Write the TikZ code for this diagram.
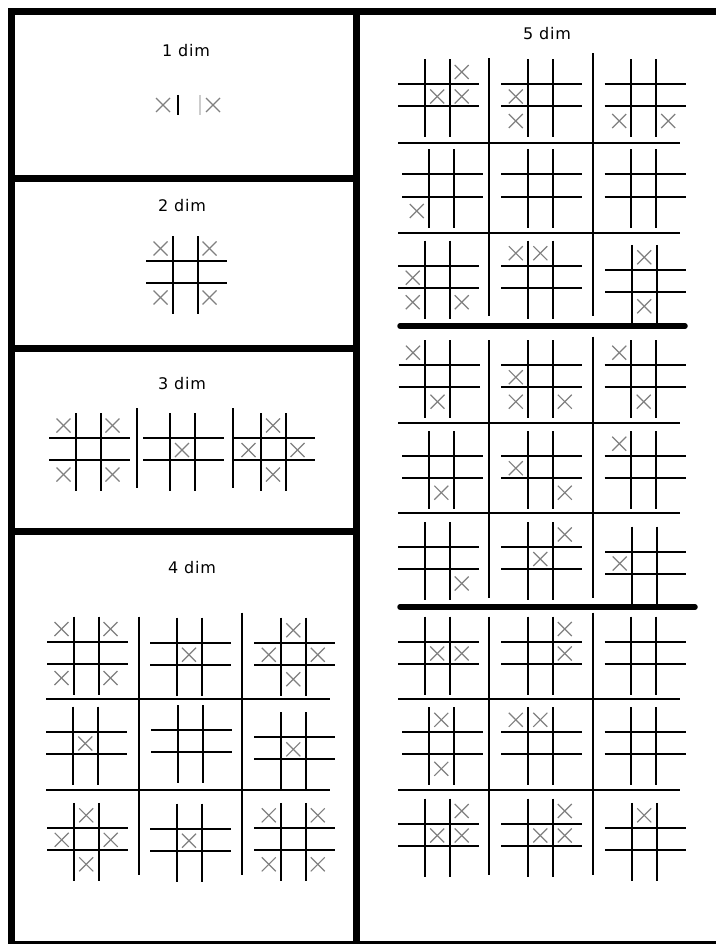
\documentclass[tikz,border=0pt]{standalone}
\usepackage{fontspec}
\setmainfont[LetterSpace=5]{DejaVu Sans}

% one tic-tac-toe board: centre x, centre y, list of marks col/row
\newcommand{\board}[3]{%
	\draw[gridline] (#1-12.5,#2-36) -- (#1-12.5,#2+42);
	\draw[gridline] (#1+12.5,#2-36) -- (#1+12.5,#2+42);
	\draw[gridline] (#1-39,#2-11) -- (#1+42,#2-11);
	\draw[gridline] (#1-39,#2+11) -- (#1+42,#2+11);
	\ifx\relax#3\relax\else
	\foreach \c/\r in {#3} {
		\draw[xmark] ({#1+24.5*\c-7},{#2+24.5*\r-6}) -- ++(14,14);
		\draw[xmark] ({#1+24.5*\c-7},{#2+24.5*\r+8}) -- ++(14,-14);
	}
	\fi
}

\begin{document}
\begin{tikzpicture}[x=1pt,y=-1pt,
	gridline/.style={black, line width=2pt},
	xmark/.style={markgray, line width=1.2pt},
	frame/.style={black, line width=7pt},
	bar/.style={black, line width=5.5pt, line cap=round},
	dimlabel/.style={font=\fontsize{16}{19}\selectfont, inner sep=0pt}]
	% Define custom colors
	\definecolor{markgray}{RGB}{128, 128, 128}
	\definecolor{lightbar}{RGB}{205, 205, 205}
	\useasboundingbox (0,0) rectangle (715,944);
	\fill[white] (0,0) rectangle (715,944);
	% frame and panels
	\draw[frame] (11,12) rectangle (719,944.5);
	\draw[frame] (356.5,12) -- (356.5,944.5);
	\draw[frame] (11,178.5) -- (356.5,178.5);
	\draw[frame] (11,348) -- (356.5,348);
	\draw[frame] (11,531.5) -- (356.5,531.5);
	% 1 dim
	\node[dimlabel] (dimone) at (186,51) {1 dim};
	\draw[xmark] (156,98) -- (170,112);
	\draw[xmark] (156,112) -- (170,98);
	\draw[gridline] (178,95) -- (178,115);
	\draw[lightbar, line width=1.5pt] (200,95) -- (200,115);
	\draw[xmark] (206,98) -- (220,112);
	\draw[xmark] (206,112) -- (220,98);
	% 2 dim
	\node[dimlabel] (dimtwo) at (182,205.5) {2 dim};
	\board{185}{272}{-1/-1,1/-1,-1/1,1/1}
	% 3 dim
	\node[dimlabel] (dimthree) at (182,384) {3 dim};
	\board{88}{449}{-1/-1,1/-1,-1/1,1/1}
	\board{182}{449}{0/0}
	\board{273}{449}{0/-1,-1/0,1/0,0/1}
	\draw[gridline] (136.7,408) -- (136.7,488);
	\draw[gridline] (232.7,408) -- (232.7,488);
	% 4 dim
	\node[dimlabel] (dimfour) at (192,567.5) {4 dim};
	\board{86}{652.5}{-1/-1,1/-1,-1/1,1/1}
	\board{189}{653.7}{0/0}
	\board{293.3}{653.7}{0/-1,-1/0,1/0,0/1}
	\board{85.3}{742.5}{0/0}
	\board{190.3}{741.3}{}
	\board{293.3}{748.3}{0/0}
	\board{86.2}{838.8}{0/-1,-1/0,1/0,0/1}
	\board{189}{839.7}{0/0}
	\board{293.3}{838.8}{-1/-1,1/-1,-1/1,1/1}
	\draw[gridline] (139.3,616.7) -- (139.3,875);
	\draw[gridline] (241.7,612.7) -- (241.7,875);
	\draw[gridline] (46,699.3) -- (330,699.3);
	\draw[gridline] (46,789.5) -- (330,789.5);
	% 5 dim
	\node[dimlabel] (dimfive) at (547,33.3) {5 dim};
	\board{437.2}{95.5}{1/-1,0/0,1/0}
	\board{540.3}{95.5}{-1/0,-1/1}
	\board{643.7}{95.5}{-1/1,1/1}
	\board{441.3}{185.5}{-1/1}
	\board{540.3}{185.5}{}
	\board{643.7}{185.5}{}
	\board{437.2}{276.7}{-1/0,-1/1,1/1}
	\board{540.3}{276.7}{-1/-1,0/-1}
	\board{644.2}{280.8}{0/-1,0/1}
	\draw[gridline] (489.3,58.3) -- (489.3,316);
	\draw[gridline] (593.3,53.3) -- (593.3,316);
	\draw[gridline] (398.3,143.3) -- (680,143.3);
	\draw[gridline] (398.3,232.7) -- (680,232.7);
	\draw[bar] (400,326) -- (685,326);
	\board{437.5}{376.2}{-1/-1,0/1}
	\board{540.3}{376.2}{-1/0,-1/1,1/1}
	\board{643.7}{376.2}{-1/-1,0/1}
	\board{441.3}{467.2}{0/1}
	\board{540.3}{467.2}{-1/0,1/1}
	\board{643.7}{467.2}{-1/-1}
	\board{437.2}{558}{1/1}
	\board{540.3}{558}{1/-1,0/0}
	\board{644.2}{562.5}{-1/0}
	\draw[gridline] (489.3,340) -- (489.3,597.7);
	\draw[gridline] (593.3,336.7) -- (593.3,597.7);
	\draw[gridline] (398.3,423.3) -- (680,423.3);
	\draw[gridline] (398.3,513.3) -- (680,513.3);
	\draw[bar] (400,607) -- (695,607);
	\board{437.2}{652.5}{0/0,1/0}
	\board{540.3}{652.5}{1/-1,1/0}
	\board{643.7}{652.5}{}
	\board{441.3}{743.3}{0/-1,0/1}
	\board{540.3}{743.3}{-1/-1,0/-1}
	\board{643.7}{743.3}{}
	\board{437.2}{834.5}{1/-1,0/0,1/0}
	\board{540.3}{834.5}{1/-1,0/0,1/0}
	\board{644.2}{838.8}{0/-1}
	\draw[gridline] (489.3,616.7) -- (489.3,875);
	\draw[gridline] (593.3,612.7) -- (593.3,875);
	\draw[gridline] (398.3,699.3) -- (680,699.3);
	\draw[gridline] (398.3,790) -- (680,790);
\end{tikzpicture}
\end{document}
